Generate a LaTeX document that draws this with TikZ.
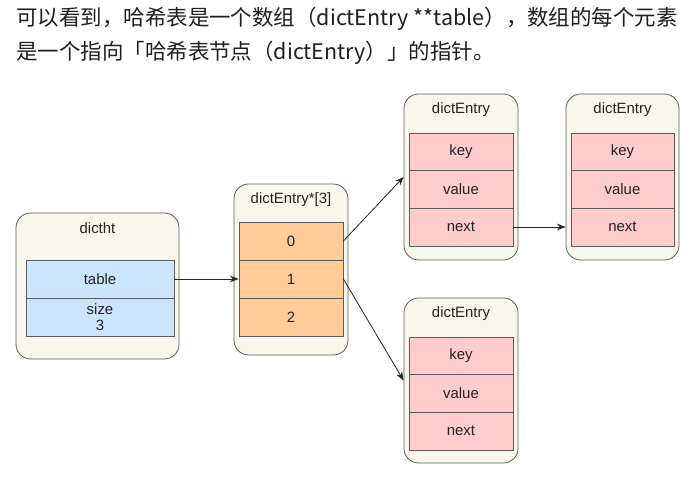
\documentclass[tikz,border=0pt]{standalone}
\usepackage{fontspec}
\setmainfont{Liberation Sans}
\newfontfamily\cjk{Noto Sans CJK SC}
\usetikzlibrary{arrows.meta}
\definecolor{cream}{HTML}{F9F7ED}
\definecolor{edge}{HTML}{5A5C60}
\definecolor{cellblue}{HTML}{CCE5FF}
\definecolor{cellorange}{HTML}{FFCC99}
\definecolor{cellpink}{HTML}{FFCCCC}
\definecolor{txt}{HTML}{222222}
\begin{document}
\begin{tikzpicture}[x=0.75pt,y=-0.75pt,
  container/.style={draw=edge, fill=cream, rounded corners=11pt, line width=0.6pt, inner sep=0pt, minimum width=#1},
  cell/.style={draw=edge, line width=0.6pt, inner sep=0pt, minimum width=#1, minimum height=28.5pt, font=\fontsize{11.2}{13}\selectfont, text=txt, align=center},
  title/.style={font=\fontsize{11.2}{13}\selectfont, text=txt, inner sep=0pt},
  ptr/.style={draw=black!85, line width=0.6pt, -{Stealth[length=6.5pt,width=5pt]}},
  zh/.style={anchor=west, inner sep=0pt, font=\cjk\fontsize{16.1}{20}\selectfont, text=black!88}
]
\useasboundingbox (0,0) rectangle (686,492);
\fill[white] (0,0) rectangle (686,492);

% heading text
\node[zh] (l1) at (16,19) {可以看到，哈希表是一个数组（dictEntry **table），数组的每个元素};
\node[zh] (l2) at (16,53) {是一个指向「哈希表节点（dictEntry）」的指针。};

% dictht
\node[container=122.25pt, minimum height=109.5pt] (ht) at (97.5,286) {};
\node[title] (htt) at (97.5,228) {dictht};
\node[cell=111pt, fill=cellblue] (tbl) at (100,279) {table};
\node[cell=111pt, fill=cellblue, font=\fontsize{11.2}{12.5}\selectfont] (sz) at (100,317) {size\\3};

% array
\node[container=85.5pt, minimum height=128.25pt] (arr) at (291,269.5) {};
\node[title] (arrt) at (291,200) {dictEntry*[3]};
\node[cell=78pt, fill=cellorange] (c0) at (291,241) {0};
\node[cell=78pt, fill=cellorange] (c1) at (291,279) {1};
\node[cell=78pt, fill=cellorange] (c2) at (291,317) {2};

% dictEntry 1
\node[container=85.5pt, minimum height=124.5pt] (e1) at (461,177) {};
\node[title] (e1t) at (461,110) {dictEntry};
\node[cell=78pt, fill=cellpink] (k1) at (461,152) {key};
\node[cell=78pt, fill=cellpink] (v1) at (461,189) {value};
\node[cell=78pt, fill=cellpink] (n1) at (461,227) {next};

% dictEntry 2
\node[container=84.75pt, minimum height=124.5pt] (e2) at (622.5,177) {};
\node[title] (e2t) at (622.5,110) {dictEntry};
\node[cell=77.25pt, fill=cellpink] (k2) at (622.5,152) {key};
\node[cell=77.25pt, fill=cellpink] (v2) at (622.5,189) {value};
\node[cell=77.25pt, fill=cellpink] (n2) at (622.5,227) {next};

% dictEntry 3
\node[container=85.5pt, minimum height=123.75pt] (e3) at (461,380.5) {};
\node[title] (e3t) at (461,314) {dictEntry};
\node[cell=78pt, fill=cellpink] (k3) at (461,356) {key};
\node[cell=78pt, fill=cellpink] (v3) at (461,393) {value};
\node[cell=78pt, fill=cellpink] (n3) at (461,431) {next};

% pointers
\draw[ptr] (tbl.east) -- (c1.west);
\draw[ptr] (c0.east) -- (e1.west);
\draw[ptr] (c1.east) -- (e3.west);
\draw[ptr] (n1.east) -- (n1.east -| e2.west);
\end{tikzpicture}
\end{document}
